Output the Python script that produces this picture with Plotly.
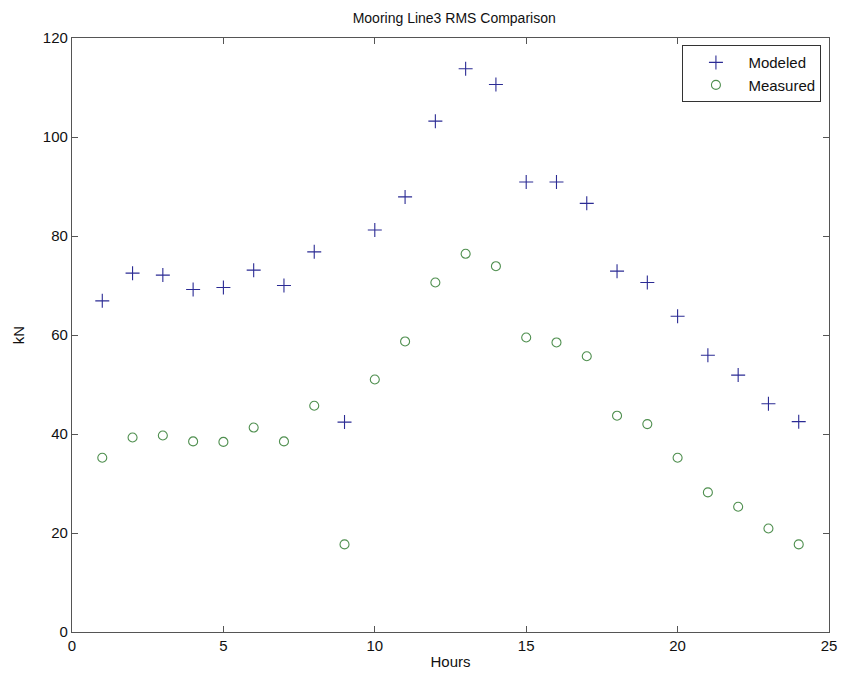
import plotly.graph_objects as go

hours = list(range(1, 25))
modeled = [66.9, 72.5, 72.1, 69.2, 69.6, 73.1, 70.0, 76.8, 42.4, 81.2, 87.9, 103.2,
           113.8, 110.6, 90.9, 90.9, 86.6, 72.9, 70.6, 63.8, 55.9, 51.9, 46.1, 42.5]
measured = [35.2, 39.3, 39.7, 38.5, 38.4, 41.3, 38.5, 45.7, 17.7, 51.0, 58.7, 70.6,
            76.4, 73.9, 59.5, 58.5, 55.7, 43.7, 42.0, 35.2, 28.2, 25.3, 20.9, 17.7]

x_ticks = [0, 5, 10, 15, 20, 25]
y_ticks = [0, 20, 40, 60, 80, 100, 120]

fam = "Liberation Sans, Arial, sans-serif"
font = dict(family=fam, size=15, color="#111111")

fig = go.Figure()
fig.add_trace(go.Scatter(
    x=hours, y=modeled, mode="markers", name="Modeled",
    marker=dict(symbol="cross-thin-open", size=10, color="#2b2b94",
                line=dict(width=1.1, color="#2b2b94")),
))
fig.add_trace(go.Scatter(
    x=hours, y=measured, mode="markers", name="Measured",
    marker=dict(symbol="circle-open", size=9, color="#4f8f4f",
                line=dict(width=1.1, color="#4f8f4f")),
))

axis_common = dict(
    showgrid=False, zeroline=False, showline=True, linecolor="#555555", linewidth=1.2,
    mirror="ticks", ticks="inside", ticklen=6, tickcolor="#555555", tickwidth=1,
    tickfont=font,
)

fig.update_layout(
    width=849, height=680,
    margin=dict(l=72, r=13, t=38, b=48),
    paper_bgcolor="white", plot_bgcolor="white",
    font=font,
    title=dict(text="Mooring Line3 RMS Comparison", x=0.535, xanchor="center",
               y=0.974, yanchor="middle", font=dict(size=14, color="#111111", family=fam)),
    xaxis=dict(range=[0, 25], tickvals=x_ticks, title=dict(text="Hours", standoff=3, font=font),
               **axis_common),
    yaxis=dict(range=[0, 120], tickvals=y_ticks, title=dict(text="kN", standoff=14, font=font),
               **axis_common),
    legend=dict(x=0.99, y=0.988, xanchor="right", yanchor="top",
                bordercolor="#333333", borderwidth=1, bgcolor="white",
                font=dict(size=15, family=fam, color="#111111"),
                itemwidth=55, tracegroupgap=0),
    showlegend=True,
)

fig.write_html("out.html")
